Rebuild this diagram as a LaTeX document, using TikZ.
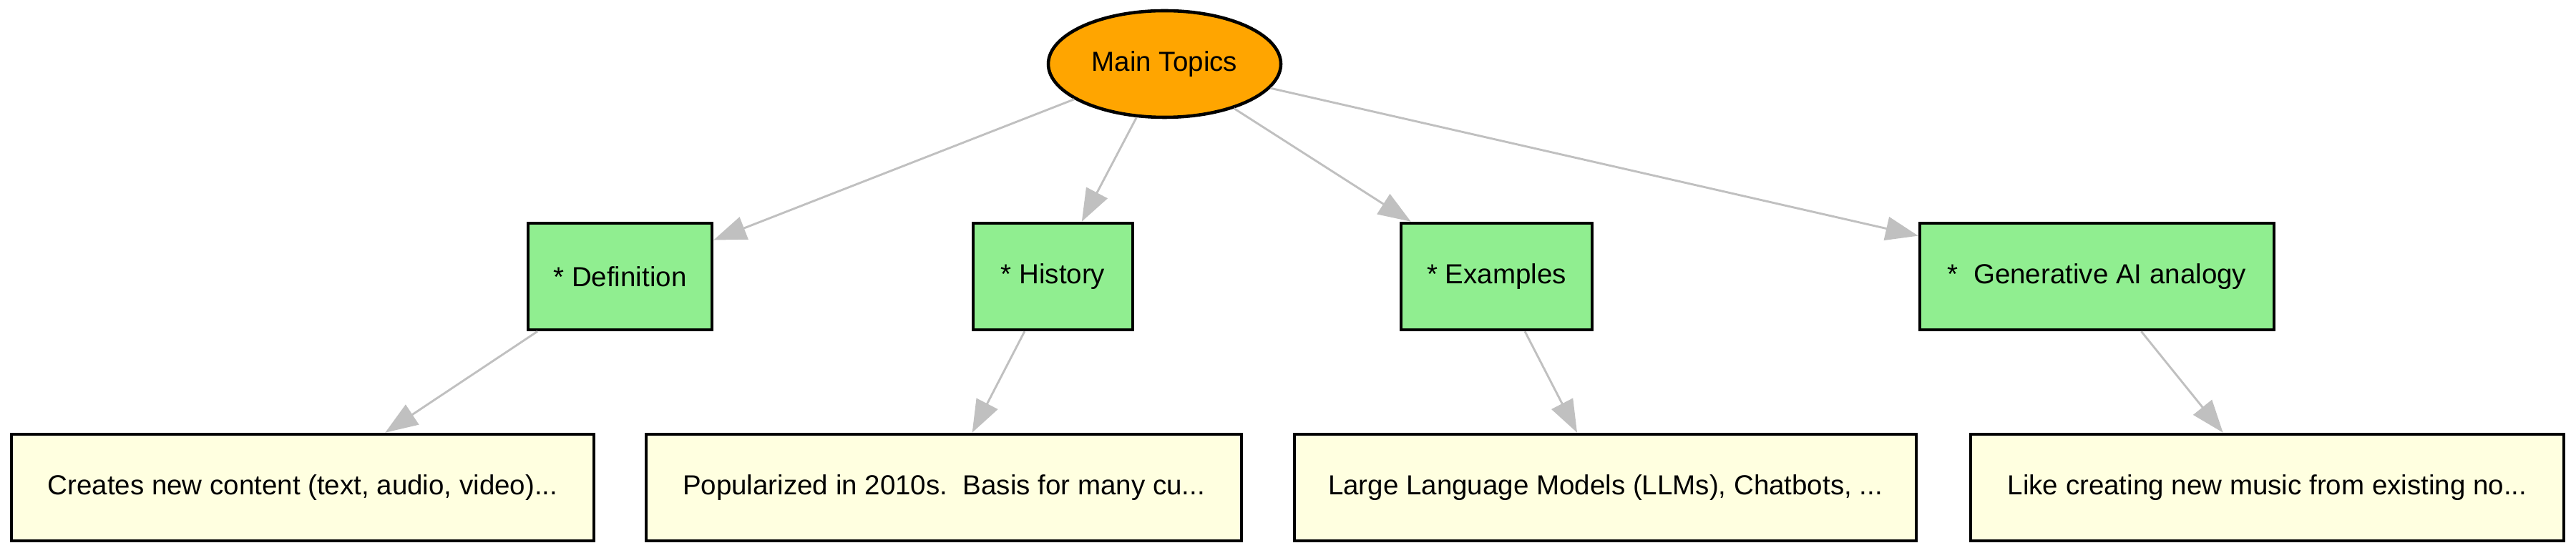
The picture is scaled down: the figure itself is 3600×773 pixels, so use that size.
\documentclass[tikz,border=0pt]{standalone}
\usepackage{fontspec}
\setmainfont{Liberation Sans}
\usetikzlibrary{arrows.meta,shapes.geometric}
\definecolor{mainorange}{HTML}{FFA500}
\definecolor{topicgreen}{HTML}{90EE90}
\definecolor{detailyellow}{HTML}{FFFFE0}
\definecolor{edgegray}{HTML}{C0C0C0}
\begin{document}
\begin{tikzpicture}[x=0.2415pt,y=-0.2415pt,
  every node/.style={font=\fontsize{9.3pt}{11pt}\selectfont, text=black, inner sep=0pt},
  mainnode/.style={ellipse, draw=black, line width=1.1pt, fill=mainorange, minimum width=325*0.2415pt, minimum height=149*0.2415pt},
  topicbox/.style={rectangle, draw=black, line width=1.1pt, fill=topicgreen, minimum height=149*0.2415pt},
  detailbox/.style={rectangle, draw=black, line width=1.1pt, fill=detailyellow, minimum height=149*0.2415pt},
  link/.style={draw=edgegray, line width=0.7pt, -{Triangle[length=11pt,width=8pt]}}
]
\useasboundingbox (0,0) rectangle (3600,773);
\node[mainnode] (main) at (1627.5,89.5) {Main Topics};

\node[topicbox, minimum width=257*0.2415pt] (def) at (866.5,386.5) {* Definition};
\node[topicbox, minimum width=223*0.2415pt] (hist) at (1471.5,386.5) {* History};
\node[topicbox, minimum width=267*0.2415pt] (ex) at (2091.5,386.5) {* Examples};
\node[topicbox, minimum width=495*0.2415pt] (gen) at (2930.5,386.5) {*\ \ Generative AI\ analogy};

\node[detailbox, minimum width=814*0.2415pt] (creates) at (423,681.5) {Creates new content (text, audio, video)...};
\node[detailbox, minimum width=832*0.2415pt] (pop) at (1319,681.5) {Popularized in 2010s.\ \ Basis for many cu...};
\node[detailbox, minimum width=869*0.2415pt] (large) at (2243.5,681.5) {Large Language Models (LLMs), Chatbots, ...};
\node[detailbox, minimum width=829*0.2415pt] (like) at (3168.5,681.5) {Like creating new music from existing no...};

\draw[link] (main) -- (def);
\draw[link] (main) -- (hist);
\draw[link] (main) -- (ex);
\draw[link] (main) -- (gen);
\draw[link] (def) -- (creates);
\draw[link] (hist) -- (pop);
\draw[link] (ex) -- (large);
\draw[link] (gen) -- (like);
\end{tikzpicture}
\end{document}
